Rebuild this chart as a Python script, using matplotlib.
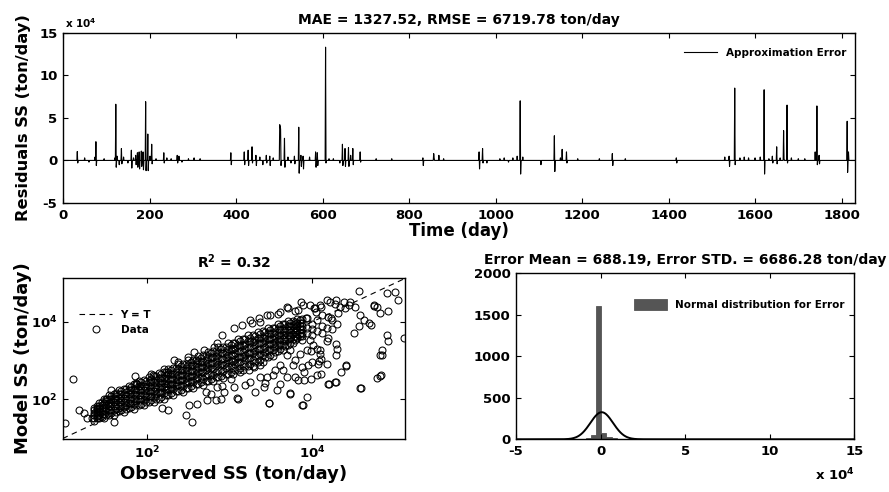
import numpy as np
import matplotlib
matplotlib.use('Agg')
import matplotlib.pyplot as plt

plt.rcParams['font.family'] = 'DejaVu Sans'
plt.rcParams['font.weight'] = 'bold'
plt.rcParams['axes.labelweight'] = 'bold'
plt.rcParams['axes.titleweight'] = 'bold'
plt.rcParams['mathtext.default'] = 'bf'
plt.rcParams['axes.unicode_minus'] = False
plt.rcParams['xtick.direction'] = 'in'
plt.rcParams['ytick.direction'] = 'in'
plt.rcParams['xtick.top'] = True
plt.rcParams['ytick.right'] = True
plt.rcParams['xtick.major.size'] = 3.5
plt.rcParams['ytick.major.size'] = 3.5
plt.rcParams['axes.linewidth'] = 1.0

# ---- residual time series: non-zero days (ton/day)
n_days = 1832
spike_day = [33, 34, 50, 60, 74, 76, 77, 95, 120, 122, 123, 125, 130, 135, 136, 140, 150,
             158, 159, 163, 168, 169, 172, 173, 176, 177, 181, 182, 185, 186, 191, 192,
             196, 197, 201, 205, 206, 215, 233, 234, 240, 250, 264, 265, 268, 275, 290,
             303, 317, 388, 389, 419, 420, 428, 429, 437, 438, 446, 447, 455, 462, 470,
             471, 478, 479, 486, 501, 502, 503, 504, 512, 513, 520, 527, 535, 536, 545,
             546, 550, 551, 555, 556, 570, 584, 585, 588, 589, 607, 608, 615, 625, 640,
             646, 647, 652, 653, 660, 661, 665, 670, 671, 687, 688, 724, 760, 832, 833,
             857, 858, 869, 880, 962, 963, 970, 971, 980, 1010, 1020, 1030, 1040, 1050,
             1057, 1058, 1063, 1105, 1136, 1137, 1150, 1154, 1164, 1165, 1190, 1240,
             1270, 1271, 1300, 1418, 1419, 1530, 1540, 1541, 1553, 1554, 1565, 1575,
             1585, 1600, 1612, 1621, 1622, 1632, 1640, 1641, 1650, 1651, 1658, 1666,
             1667, 1674, 1675, 1684, 1700, 1715, 1739, 1743, 1744, 1748, 1749, 1813,
             1814, 1816]
spike_val = [10500, -3000, 3000, -2000, 4000, 22000, -6000, 2000, 3000, 66000, -8000, 5000,
             -5000, 14000, -4000, 4000, -3000, 12000, -9000, 3000, 6000, -5000, 9000, -8000,
             10000, -10000, 11000, -7000, 10000, -11000, 69000, -12000, 31000, -12000, 5000,
             19000, -4000, 2000, 9000, -3000, 3000, 2000, 6000, -3000, 5000, -2000, 2000,
             3000, 2000, 9000, -5000, 10000, -5000, 12000, -6000, 16000, -3000, 6000, -6000,
             4000, -5000, 6000, -3000, 5000, -6000, 3000, 42000, 40000, 37000, -6000, 26000,
             -8000, 4000, -3000, 5000, -4000, 39000, -15000, 6000, -7000, 5000, -10000, 4000,
             10000, -8000, 9000, -6000, 133000, -3000, 2000, 2000, -3000, 19000, -6000,
             14000, -7000, 15000, -7000, 6000, 14000, -5000, 10000, -2000, 2000, 2000, 3000,
             -6000, 8000, 3000, 6000, 2000, 10000, -10000, 14000, -3000, -3000, 2000, 3000,
             -2000, 3000, 5000, 70000, -16000, 4000, -5000, 29000, -13000, 3000, 13000,
             10000, -3000, 2000, 2000, 8000, -6000, 2000, 3000, -3000, 4000, 5000, -7000,
             85000, -5000, 3000, 4000, 3000, 3000, 4000, 83000, -16000, 2000, 5000, -3000,
             16000, -4000, 3000, 35000, 2000, 65000, -3000, 3000, 2000, 2000, 10000, 64000,
             -5000, 6000, -4000, 46000, -14000, 10000]
mae, rmse = 1327.52, 6719.78

# ---- observed vs model (log10 ton/day): dense band, one column per observed value
band_obs = [1.36, 1.42, 1.48, 1.54, 1.60, 1.66, 1.72, 1.78, 1.84, 1.90, 1.96, 2.02, 2.08,
            2.14, 2.20, 2.26, 2.32, 2.38, 2.44, 2.50, 2.56, 2.62, 2.68, 2.74, 2.80, 2.86,
            2.92, 2.98, 3.04, 3.10, 3.16, 3.22, 3.28, 3.34, 3.40, 3.46, 3.52, 3.58, 3.64,
            3.70, 3.76, 3.82, 3.88]
band_mod = [[1.44, 1.51, 1.58, 1.65, 1.71, 1.78], [1.50, 1.60, 1.68, 1.76, 1.83, 1.91],
            [1.51, 1.61, 1.71, 1.80, 1.89, 1.99], [1.60, 1.72, 1.82, 1.91, 2.01, 2.10],
            [1.59, 1.71, 1.82, 1.92, 2.03, 2.14], [1.68, 1.81, 1.92, 2.02, 2.13, 2.23],
            [1.67, 1.79, 1.92, 2.03, 2.14, 2.26], [1.76, 1.90, 2.01, 2.13, 2.24, 2.35],
            [1.75, 1.88, 2.01, 2.13, 2.25, 2.38], [1.84, 1.99, 2.11, 2.23, 2.35, 2.47],
            [1.84, 1.98, 2.11, 2.23, 2.35, 2.49], [1.92, 2.08, 2.20, 2.33, 2.45, 2.57],
            [1.92, 2.06, 2.20, 2.32, 2.45, 2.59], [2.01, 2.18, 2.30, 2.43, 2.55, 2.68],
            [2.01, 2.15, 2.30, 2.42, 2.55, 2.69], [2.11, 2.27, 2.40, 2.53, 2.66, 2.79],
            [2.10, 2.25, 2.40, 2.53, 2.66, 2.80], [2.20, 2.37, 2.50, 2.63, 2.77, 2.90],
            [2.19, 2.34, 2.49, 2.63, 2.76, 2.91], [2.29, 2.46, 2.60, 2.74, 2.87, 3.01],
            [2.28, 2.44, 2.59, 2.73, 2.87, 3.02], [2.38, 2.56, 2.70, 2.84, 2.98, 3.12],
            [2.37, 2.53, 2.69, 2.83, 2.97, 3.13], [2.47, 2.66, 2.80, 2.94, 3.09, 3.23],
            [2.46, 2.62, 2.79, 2.93, 3.08, 3.24], [2.56, 2.75, 2.90, 3.05, 3.19, 3.34],
            [2.55, 2.72, 2.89, 3.03, 3.18, 3.35], [2.65, 2.85, 3.00, 3.15, 3.30, 3.45],
            [2.64, 2.81, 2.98, 3.13, 3.29, 3.46], [2.75, 2.95, 3.10, 3.25, 3.40, 3.55],
            [2.74, 2.91, 3.08, 3.23, 3.39, 3.56], [2.85, 3.05, 3.20, 3.35, 3.50, 3.65],
            [2.85, 3.02, 3.19, 3.33, 3.48, 3.65], [2.96, 3.15, 3.30, 3.45, 3.59, 3.74],
            [2.97, 3.13, 3.30, 3.44, 3.59, 3.75], [3.10, 3.28, 3.42, 3.56, 3.70, 3.84],
            [3.11, 3.27, 3.42, 3.56, 3.70, 3.85], [3.25, 3.41, 3.54, 3.67, 3.80, 3.93],
            [3.27, 3.41, 3.55, 3.67, 3.80, 3.94], [3.40, 3.55, 3.66, 3.78, 3.89, 4.01],
            [3.44, 3.56, 3.68, 3.79, 3.89, 4.01], [3.57, 3.69, 3.79, 3.88, 3.98, 4.07],
            [3.62, 3.72, 3.81, 3.90, 3.98, 4.08]]

# second set of columns in between the first ones (the band is solid black)
core_obs = [1.39, 1.45, 1.51, 1.57, 1.63, 1.69, 1.75, 1.81, 1.87, 1.93, 1.99, 2.05, 2.11,
            2.17, 2.23, 2.29, 2.35, 2.41, 2.47, 2.53, 2.59, 2.65, 2.71, 2.77, 2.83, 2.89,
            2.95, 3.01, 3.07, 3.13, 3.19, 3.25, 3.31, 3.37, 3.43, 3.49, 3.55, 3.61, 3.67,
            3.73, 3.79, 3.85]
core_mod = [[1.50, 1.57, 1.63, 1.70, 1.77, 1.82], [1.54, 1.62, 1.70, 1.78, 1.85, 1.92],
            [1.59, 1.68, 1.76, 1.85, 1.94, 2.01], [1.63, 1.73, 1.82, 1.92, 2.01, 2.09],
            [1.67, 1.77, 1.87, 1.97, 2.07, 2.15], [1.71, 1.82, 1.92, 2.02, 2.12, 2.21],
            [1.75, 1.86, 1.97, 2.07, 2.18, 2.26], [1.80, 1.91, 2.02, 2.13, 2.23, 2.32],
            [1.84, 1.95, 2.07, 2.18, 2.29, 2.38], [1.88, 2.00, 2.11, 2.23, 2.34, 2.43],
            [1.92, 2.05, 2.16, 2.28, 2.39, 2.48], [1.97, 2.09, 2.20, 2.32, 2.44, 2.53],
            [2.01, 2.14, 2.25, 2.37, 2.49, 2.59], [2.06, 2.18, 2.30, 2.42, 2.54, 2.64],
            [2.10, 2.23, 2.35, 2.48, 2.60, 2.69], [2.15, 2.28, 2.40, 2.53, 2.65, 2.75],
            [2.20, 2.33, 2.45, 2.58, 2.70, 2.80], [2.24, 2.37, 2.50, 2.63, 2.75, 2.86],
            [2.29, 2.42, 2.55, 2.68, 2.81, 2.91], [2.33, 2.47, 2.60, 2.73, 2.86, 2.97],
            [2.38, 2.52, 2.65, 2.78, 2.91, 3.02], [2.43, 2.57, 2.70, 2.83, 2.97, 3.07],
            [2.47, 2.61, 2.75, 2.88, 3.02, 3.13], [2.52, 2.66, 2.80, 2.94, 3.07, 3.18],
            [2.56, 2.71, 2.85, 2.99, 3.12, 3.24], [2.61, 2.76, 2.90, 3.04, 3.18, 3.29],
            [2.66, 2.80, 2.94, 3.09, 3.23, 3.34], [2.70, 2.85, 2.99, 3.14, 3.28, 3.40],
            [2.75, 2.90, 3.04, 3.19, 3.33, 3.45], [2.80, 2.95, 3.09, 3.24, 3.38, 3.50],
            [2.85, 3.00, 3.14, 3.29, 3.43, 3.55], [2.91, 3.05, 3.19, 3.34, 3.48, 3.59],
            [2.96, 3.11, 3.25, 3.39, 3.53, 3.64], [3.02, 3.16, 3.30, 3.44, 3.58, 3.69],
            [3.09, 3.23, 3.36, 3.50, 3.63, 3.74], [3.15, 3.29, 3.42, 3.56, 3.69, 3.79],
            [3.23, 3.36, 3.48, 3.61, 3.74, 3.84], [3.30, 3.43, 3.55, 3.67, 3.79, 3.89],
            [3.38, 3.50, 3.61, 3.73, 3.84, 3.93], [3.46, 3.57, 3.67, 3.78, 3.88, 3.97],
            [3.54, 3.64, 3.74, 3.83, 3.93, 4.00], [3.63, 3.72, 3.80, 3.89, 3.97, 4.04]]

# scattered points outside the band (log10 observed, log10 model)
out_obs = [1.01, 1.10, 1.18, 1.24, 1.28, 1.33, 1.40, 1.57, 1.61, 1.52, 1.60, 1.88, 2.18,
           2.25, 2.47, 2.55, 2.51, 2.60, 2.73, 2.83, 2.89, 2.93, 2.85, 2.91, 2.81, 2.59,
           2.49, 2.37, 2.25, 2.07, 1.87, 1.85, 2.05, 2.21, 2.33, 2.57, 2.69, 2.85, 3.05,
           3.15, 3.27, 3.37, 3.45, 3.61, 3.69, 3.83, 3.89, 3.97, 4.05, 4.03, 4.11, 3.10,
           3.31, 3.48, 3.73, 3.89, 3.61, 3.69, 3.79, 3.90, 3.99, 4.07, 4.09, 4.19, 4.27,
           4.35, 4.41, 4.58, 4.78, 4.82, 4.82, 4.84, 4.90, 5.11, 4.92, 4.78, 4.90, 5.00,
           5.04, 4.56, 4.62, 4.68, 4.50, 4.75, 4.52, 4.44, 4.34, 4.27, 4.19, 4.21, 4.46,
           4.01, 4.09, 4.11, 3.97, 3.87, 3.81, 3.73, 3.69, 3.77, 3.87, 3.85, 3.93, 3.55,
           3.45, 3.37, 3.25, 3.13, 3.01, 2.91, 2.77, 2.71, 3.05, 3.29, 3.41, 4.74, 4.82,
           4.58, 4.57, 4.71, 4.91, 4.84, 4.83, 4.59, 4.41, 4.29, 4.20, 4.29, 4.18, 4.08,
           4.10, 3.95, 3.90, 3.98, 4.06, 3.98, 4.06, 4.18, 4.19, 4.29, 4.30, 4.22, 4.31,
           4.40, 4.38, 4.29, 4.18, 4.09, 4.02, 3.86, 3.79, 3.92, 3.71, 3.59, 3.49, 3.36,
           3.25, 3.61, 3.65, 3.53, 3.43, 3.47, 3.57, 3.73, 3.88, 3.94, 3.83, 3.79, 3.19,
           3.09, 3.23, 3.37, 3.94, 3.94, 3.94, 4.00, 4.00, 4.00, 4.06, 4.06, 4.12, 4.12,
           4.12, 4.18, 4.24, 4.24, 4.30]
out_mod = [1.38, 2.51, 1.71, 1.65, 1.50, 1.50, 1.74, 2.23, 2.00, 2.00, 1.41, 2.39, 1.76,
           1.71, 1.58, 1.41, 1.84, 1.88, 1.97, 1.97, 2.00, 2.19, 2.32, 3.66, 3.36, 3.01,
           3.10, 2.97, 2.71, 2.62, 2.41, 2.61, 2.66, 2.79, 3.00, 3.22, 3.26, 3.44, 3.83,
           3.92, 3.96, 4.00, 4.17, 4.26, 4.39, 4.30, 4.43, 4.43, 4.26, 4.35, 4.39, 2.01,
           2.19, 1.90, 2.14, 1.84, 2.40, 2.57, 2.57, 2.70, 2.96, 2.91, 3.17, 2.38, 2.45,
           2.70, 2.87, 2.29, 2.55, 2.61, 3.13, 3.26, 3.65, 3.59, 4.28, 4.39, 4.75, 4.77,
           4.56, 4.79, 4.04, 3.97, 3.71, 4.43, 4.39, 4.43, 4.39, 4.45, 4.13, 4.52, 4.52,
           3.39, 3.26, 3.04, 3.52, 3.52, 3.61, 3.26, 3.13, 2.87, 2.83, 3.17, 3.26, 2.74,
           2.57, 2.57, 2.44, 2.70, 2.53, 2.35, 2.14, 2.19, 2.31, 2.83, 2.31, 4.40, 4.22,
           4.18, 3.90, 3.92, 3.49, 3.14, 2.62, 2.29, 2.86, 2.43, 2.38, 3.14, 2.90, 2.99,
           2.64, 2.88, 2.49, 2.53, 2.62, 3.25, 3.30, 3.49, 3.58, 3.42, 3.30, 4.10, 4.23,
           4.36, 4.51, 4.57, 4.55, 4.44, 4.36, 4.51, 4.27, 4.10, 4.36, 4.20, 4.18, 4.10,
           4.05, 2.88, 2.75, 2.62, 2.41, 1.89, 2.23, 2.17, 1.86, 2.06, 2.49, 3.01, 2.36,
           2.02, 2.75, 2.88, 3.70, 3.85, 4.10, 3.65, 3.80, 3.95, 3.75, 4.05, 3.70, 3.88,
           4.18, 3.85, 3.80, 4.05, 3.95]
r2 = 0.32

# ---- error histogram: bins of 3000 ton/day starting at -17500
bin_start, bin_width = -17500, 3000
hist_count = [1, 3, 5, 12, 55, 1610, 75, 22, 12, 8, 6, 3, 2, 2, 1, 1, 1, 0, 1, 0, 1, 0, 0,
              1, 0, 0, 0, 0, 0, 0, 0, 1, 0, 0, 0, 0, 0, 0, 0, 0, 0, 0, 0, 0, 0, 0, 0, 0, 0,
              0, 1]
err_mean, err_std = 688.19, 6686.28

fig = plt.figure(figsize=(8.89, 4.92), dpi=100)

# ================= top: residuals
ax1 = fig.add_axes([0.0709, 0.5874, 0.8913, 0.3461])
resid = np.zeros(n_days)
resid[np.array(spike_day) - 1] = spike_val
days = np.arange(1, n_days + 1)
ax1.plot(days, resid / 1e4, color='k', lw=0.8, label='Approximation Error')
ax1.set_xlim(0, n_days)
ax1.set_ylim(-5, 15)
ax1.set_xticks(range(0, 1801, 200))
ax1.set_yticks([-5, 0, 5, 10, 15])
ax1.tick_params(labelsize=9.5, pad=4)
ax1.set_title('MAE = %.2f, RMSE = %.2f ton/day' % (mae, rmse), fontsize=10, pad=6)
ax1.set_xlabel('Time (day)', fontsize=12)
ax1.set_ylabel('Residuals SS (ton/day)', fontsize=11.7)
ax1.xaxis.set_label_coords(0.5, -0.11)
ax1.yaxis.set_label_coords(-0.04, 0.5)
ax1.legend(loc='upper right', frameon=False, fontsize=7.5, handlelength=3.2,
           bbox_to_anchor=(1.0, 0.965))
fig.text(65 / 889, 1 - 28 / 492, r'x 10$^4$', fontsize=7.5, va='baseline')

# ================= bottom left: observed vs model
ax2 = fig.add_axes([0.0705, 0.1071, 0.385, 0.3285])
obs_log = ([x for x, col in zip(band_obs, band_mod) for _ in col]
           + [x for x, col in zip(core_obs, core_mod) for _ in col] + out_obs)
mod_log = ([y for col in band_mod for y in col]
           + [y for col in core_mod for y in col] + out_mod)
obs = 10 ** np.array(obs_log)
mod = 10 ** np.array(mod_log)
lo = 10 ** (min(obs_log) - 0.03)
hi = 10 ** (max(obs_log) + 0.03)
line, = ax2.plot([lo, hi], [lo, hi], 'k--', lw=0.8, dashes=(5, 4))
pts, = ax2.plot(obs, mod, 'o', mfc='none', mec='k', ms=5, mew=0.75)
ax2.set_xscale('log')
ax2.set_yscale('log')
ax2.set_xlim(10 ** 0.98, 10 ** 5.12)
ax2.set_ylim(10 ** 0.96, 10 ** 5.14)
ax2.set_xticks([1e2, 1e4])
ax2.set_yticks([1e2, 1e4])
ax2.set_xticklabels([r'10$^2$', r'10$^4$'])
ax2.set_yticklabels([r'10$^2$', r'10$^4$'])
ax2.minorticks_off()
ax2.tick_params(labelsize=9.5, pad=4)
ax2.set_title(r'R$^2$ = %.2f' % r2, fontsize=10, pad=7)
ax2.set_xlabel('Observed SS (ton/day)', fontsize=13)
ax2.set_ylabel('Model SS (ton/day)', fontsize=13)
ax2.xaxis.set_label_coords(0.5, -0.16)
ax2.yaxis.set_label_coords(-0.09, 0.5)
ax2.legend([line, pts], ['Y = T', 'Data'], loc='upper left', frameon=False,
           fontsize=7.5, handlelength=3.2, numpoints=1, bbox_to_anchor=(0.02, 0.86))

# ================= bottom right: error histogram
ax3 = fig.add_axes([0.5804, 0.1071, 0.3805, 0.3374])
edges = bin_start + bin_width * np.arange(len(hist_count))
ax3.bar(edges / 1e4, hist_count, width=bin_width / 1e4, align='edge',
        color='#555555', edgecolor='#555555', lw=0.6, label='Normal distribution for Error')
xs = np.linspace(-5e4, 15e4, 600)
n = sum(hist_count)
pdf = n * bin_width * np.exp(-0.5 * ((xs - err_mean) / err_std) ** 2) / (err_std * np.sqrt(2 * np.pi))
ax3.plot(xs / 1e4, pdf, color='k', lw=1.4)
ax3.set_xlim(-5, 15)
ax3.set_ylim(0, 2000)
ax3.set_xticks([-5, 0, 5, 10, 15])
ax3.set_yticks([0, 500, 1000, 1500, 2000])
ax3.tick_params(labelsize=9.5, pad=4)
ax3.set_title('Error Mean = %.2f, Error STD. = %.2f ton/day' % (err_mean, err_std),
              fontsize=10, pad=7)
ax3.legend(loc='upper right', frameon=False, fontsize=7.5, handlelength=3.2,
           handleheight=1.25, bbox_to_anchor=(1.0, 0.9))
fig.text(855 / 889, 1 - 480 / 492, r'x 10$^4$', fontsize=9.5, ha='right', va='baseline')

fig.savefig('out.png', dpi=100)
